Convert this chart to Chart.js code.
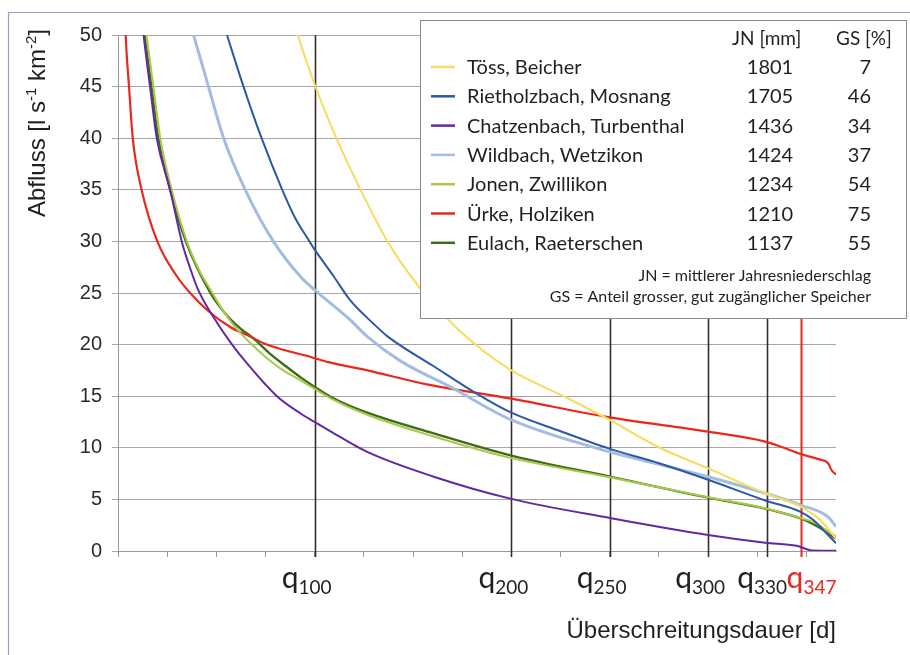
<!DOCTYPE html>
<html>
<head>
<meta charset="utf-8">
<script src="https://cdn.jsdelivr.net/npm/chart.js@4.4.1/dist/chart.umd.min.js"></script>
<style>
  html, body { margin: 0; padding: 0; background: #fff; }
  #wrap { width: 910px; height: 655px; }
</style>
</head>
<body>
<div id="wrap"><canvas id="fdc" width="910" height="655"></canvas></div>
<script>
// Abflussdauerkurven, Abfluss in l/s/km2 gegen Ueberschreitungsdauer in Tagen
const stations = ['Töss, Beicher', 'Rietholzbach, Mosnang', 'Chatzenbach, Turbenthal',
  'Wildbach, Wetzikon', 'Jonen, Zwillikon', 'Ürke, Holziken', 'Eulach, Raeterschen'];
const jnMm = [1801, 1705, 1436, 1424, 1234, 1210, 1137];
const gsPct = [7, 46, 34, 37, 54, 75, 55];

const toessDays = [84, 91.4, 100, 111, 123.3, 137, 153, 167.4, 181, 200, 228.6, 250, 274.4, 300, 329, 347, 357, 365];
const toessQ    = [55, 50, 45.2, 40, 35, 30, 25.6, 22.5, 20.1, 17.5, 14.8, 12.7, 10.1, 8.0, 5.6, 4.3, 3.0, 1.2];

const riethDays = [48, 55.4, 63.8, 73, 83.5, 90, 97, 100, 109.7, 118, 130, 137, 160.5, 181, 200, 225, 250, 275, 300, 329, 347, 353.5, 361, 365];
const riethQ    = [54.5, 50, 45, 40, 35, 32.3, 30.1, 29.2, 26.6, 24.3, 22.0, 20.8, 17.9, 15.4, 13.4, 11.6, 9.9, 8.5, 6.9, 4.9, 3.8, 3.0, 1.55, 0.75];

const chatzDays = [10, 13, 16.3, 19.7, 26.5, 32.4, 36.5, 41, 49.4, 58, 65.5, 80.8, 93, 100, 108, 126.7, 160.5, 200, 250, 300, 329, 345, 353, 365];
const chatzQ    = [56, 50, 45, 40, 35, 30, 27.5, 25.2, 22.4, 20, 18.2, 15, 13.3, 12.5, 11.6, 9.6, 7.2, 5.05, 3.2, 1.55, 0.8, 0.5, 0.05, 0.02];

const wildDays = [32, 38.4, 46, 53.7, 64.7, 79, 92.7, 100, 118, 126.6, 143.7, 169, 200, 250, 275, 300, 329, 347, 361, 365];
const wildQ    = [54, 50, 45, 40, 35, 30, 26.6, 25.3, 22.4, 20.8, 18.4, 15.9, 12.7, 9.6, 8.4, 7.2, 5.6, 4.45, 3.3, 2.35];

const jonenDays = [10, 14.5, 18, 21.5, 27.3, 35, 41, 48, 54, 60.5, 67, 75, 82.5, 93, 100, 108, 126.7, 160.5, 200, 250, 300, 329, 347, 353.5, 361, 365];
const jonenQ    = [56, 50, 45, 40, 35, 30, 27.3, 25, 23.1, 21.5, 20.2, 18.8, 17.7, 16.5, 15.7, 14.8, 13.2, 11.1, 9.0, 7.15, 5.2, 4.15, 3.2, 2.8, 1.9, 1.4];

const uerkeDays = [0, 3.9, 5.6, 7.5, 12, 20, 30, 36.7, 45, 57, 67, 75.7, 84, 98, 107, 126.7, 157, 200, 250, 300, 329, 337, 347, 356, 361, 362.7, 365];
const uerkeQ    = [75, 50, 45, 40, 35, 30, 26.6, 25, 23.4, 21.7, 20.8, 20, 19.5, 18.8, 18.3, 17.5, 16.15, 14.76, 12.95, 11.56, 10.6, 10.1, 9.4, 8.9, 8.5, 7.85, 7.4];

const eulachDays = [10, 13.5, 17, 20.5, 26.5, 34.5, 47, 55, 62, 68.8, 78, 86, 93, 100, 108, 126.7, 160.5, 200, 250, 300, 329, 347, 353.5, 361, 365];
const eulachQ    = [55, 50, 45, 40, 35, 30, 25, 22.9, 21.6, 20.6, 19.0, 17.8, 16.8, 15.9, 14.95, 13.4, 11.4, 9.24, 7.2, 5.17, 4.1, 3.15, 2.6, 1.75, 1.2];

const qDays = [100, 200, 250, 300, 330, 347];

const seriesDays = [toessDays, riethDays, chatzDays, wildDays, jonenDays, uerkeDays, eulachDays];
const seriesQ = [toessQ, riethQ, chatzQ, wildQ, jonenQ, uerkeQ, eulachQ];
const lineColors = ['#f6dc5c', '#2b59a8', '#6428a0', '#a3bde0', '#a9c94a', '#e8281c', '#3f6b1c'];
const lineWidths = [2, 2, 2, 3, 2, 2.2, 2.4];

const datasets = stations.map((name, i) => ({
  label: name,
  data: seriesDays[i].map((d, k) => ({ x: d, y: seriesQ[i][k] })),
  borderColor: lineColors[i],
  borderWidth: lineWidths[i],
  clip: 0
}));

const darkText = '#231f20';
const qLineColor = '#3b2c28';
const qRed = '#e8281c';

const extras = {
  id: 'extras',
  beforeDatasetsDraw(chart) {
    const { ctx, chartArea: a, scales: { x } } = chart;
    ctx.save();
    qDays.forEach(d => {
      const px = Math.round(x.getPixelForValue(d)) + 0.5;
      ctx.strokeStyle = d === 347 ? qRed : qLineColor;
      ctx.lineWidth = d === 347 ? 2 : 1.6;
      ctx.beginPath();
      ctx.moveTo(px, a.top);
      ctx.lineTo(px, a.bottom + 6);
      ctx.stroke();
    });
    ctx.restore();
  },
  afterDraw(chart) {
    const { ctx, scales: { x } } = chart;
    ctx.save();

    // q labels with subscripts
    const shift = [-33, -33, -33, -33, -30, -14];
    qDays.forEach((d, i) => {
      const px = x.getPixelForValue(d) + shift[i];
      ctx.fillStyle = d === 347 ? qRed : darkText;
      ctx.textAlign = 'left';
      ctx.font = '30px Lato';
      ctx.fillText('q', px, 588);
      const w = ctx.measureText('q').width;
      ctx.font = '19px Lato';
      ctx.fillText(String(d), px + w, 594);
    });

    // axis titles
    ctx.fillStyle = darkText;
    ctx.font = '24px "Liberation Sans"';
    ctx.textAlign = 'right';
    ctx.fillText('Überschreitungsdauer [d]', 836, 638);

    ctx.save();
    ctx.translate(45, 217);
    ctx.rotate(-Math.PI / 2);
    ctx.textAlign = 'left';
    const big = '24px "Liberation Sans"', small = '15px "Liberation Sans"';
    let cx = 0;
    [['Abfluss [l s', big, 0], ['-1', small, -9], [' km', big, 0], ['-2', small, -9], [']', big, 0]]
      .forEach(([t, f, dy]) => { ctx.font = f; ctx.fillText(t, cx, dy); cx += ctx.measureText(t).width; });
    ctx.restore();

    // legend box
    ctx.fillStyle = '#fff';
    ctx.fillRect(420, 20, 486, 298);
    ctx.strokeStyle = '#8a8a8a';
    ctx.lineWidth = 1;
    ctx.strokeRect(420.5, 20.5, 486, 298);

    ctx.fillStyle = darkText;
    ctx.font = '19px Lato';
    ctx.textAlign = 'left';
    ctx.fillText('JN [mm]', 732, 45);
    ctx.fillText('GS [%]', 836, 45);

    stations.forEach((name, i) => {
      const ry = 67 + i * 29.3;
      ctx.strokeStyle = lineColors[i];
      ctx.lineWidth = 2.5;
      ctx.beginPath();
      ctx.moveTo(431, ry);
      ctx.lineTo(455, ry);
      ctx.stroke();
      ctx.fillStyle = darkText;
      ctx.font = '20px Lato';
      ctx.textAlign = 'left';
      ctx.fillText(name, 467, ry + 7);
      ctx.textAlign = 'center';
      ctx.fillText(String(jnMm[i]), 770, ry + 7);
      ctx.textAlign = 'right';
      ctx.fillText(String(gsPct[i]), 871, ry + 7);
    });

    ctx.font = '16px Lato';
    ctx.textAlign = 'right';
    ctx.fillText('JN = mittlerer Jahresniederschlag', 871, 281);
    ctx.fillText('GS = Anteil grosser, gut zugänglicher Speicher', 871, 302);

    // outer frame
    ctx.strokeStyle = '#94a3cc';
    ctx.lineWidth = 1.2;
    ctx.beginPath();
    ctx.moveTo(8.5, 655);
    ctx.lineTo(8.5, 12.5);
    ctx.lineTo(910, 12.5);
    ctx.stroke();

    ctx.restore();
  }
};

new Chart(document.getElementById('fdc').getContext('2d'), {
  type: 'line',
  data: { datasets },
  options: {
    responsive: false,
    animation: false,
    devicePixelRatio: 1,
    layout: { padding: { top: 35, right: 74, bottom: 0, left: 0 } },
    plugins: { legend: { display: false }, tooltip: { enabled: false } },
    elements: {
      point: { radius: 0 },
      line: { cubicInterpolationMode: 'monotone', fill: false }
    },
    scales: {
      x: {
        type: 'linear', min: 0, max: 365,
        ticks: { stepSize: 25, includeBounds: false, callback: () => '' },
        grid: { drawOnChartArea: false, drawTicks: true, tickLength: 6, color: '#9a9a9a' },
        border: { color: '#9a9a9a' },
        afterFit: s => { s.height = 104; }
      },
      y: {
        min: 0, max: 50,
        ticks: { stepSize: 5, padding: 10, color: '#2a2a2a', font: { family: 'Liberation Sans', size: 20 } },
        grid: { color: '#aaa5aa', tickLength: 6 },
        border: { color: '#9a9a9a' },
        afterFit: s => { s.width = 118; }
      }
    }
  },
  plugins: [extras]
});
</script>
</body>
</html>
